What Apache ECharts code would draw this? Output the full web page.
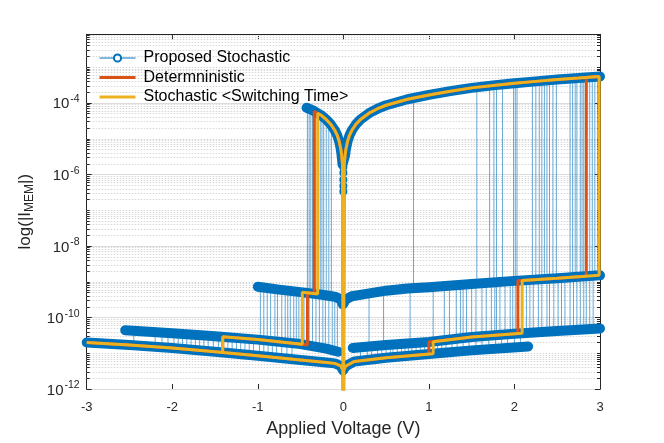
<!DOCTYPE html>
<html><head><meta charset="utf-8">
<script src="https://cdn.jsdelivr.net/npm/echarts@6/dist/echarts.min.js"></script>
<style>html,body{margin:0;padding:0;background:#fff}#c{width:664px;height:443px}</style>
</head><body><div id="c"></div>
<script>
// ---------------- data ----------------
const xTicks = [-3, -2, -1, 0, 1, 2, 3];
const yLabelExps = [-12, -10, -8, -6, -4];

// ON-state band (V, |I|)
const onV = [-0.43,-0.4,-0.35,-0.3,-0.25,-0.2,-0.15,-0.1,-0.07,-0.05,-0.03,-0.02,-0.01,0.01,0.02,0.03,0.05,0.07,0.1,0.15,0.2,0.3,0.4,0.5,0.75,1,1.25,1.5,1.75,2,2.25,2.5,2.75,3];
const onI = [7.2e-5,6.8e-5,6e-5,5.1e-5,4.3e-5,3.4e-5,2.55e-5,1.7e-5,1.2e-5,8.5e-6,5.1e-6,3.4e-6,1.9e-6,1.9e-6,3.4e-6,5.1e-6,8.5e-6,1.2e-5,1.7e-5,2.55e-5,3.4e-5,5.1e-5,6.8e-5,8.5e-5,1.25e-4,1.65e-4,2.1e-4,2.6e-4,3.05e-4,3.5e-4,3.95e-4,4.45e-4,4.9e-4,5.4e-4];
// intermediate band
const midV = [-1,-0.75,-0.5,-0.25,-0.1,-0.03,-0.005,0.005,0.03,0.1,0.25,0.5,0.75,1,1.5,2,2.5,3];
const midI = [7.2e-10,6e-10,5.1e-10,4.3e-10,3.8e-10,3.2e-10,2.3e-10,2.3e-10,3.2e-10,3.9e-10,4.5e-10,5.6e-10,6.4e-10,7e-10,8.6e-10,1.05e-9,1.25e-9,1.5e-9];
// upper low band, negative side
const uV = [-2.55,-2,-1.5,-1,-0.5,-0.2,-0.06];
const uI = [4.4e-11,3.6e-11,3e-11,2.4e-11,1.8e-11,1.35e-11,1.1e-11];
// lowest band (negative side + positive side)
const lowV = [-3,-2.5,-2,-1.5,-1,-0.5,-0.2,-0.1,-0.03,-0.005,0.005,0.03,0.13,0.5,1,1.5,2.16];
const lowI = [2e-11,1.7e-11,1.4e-11,1.1e-11,8.5e-12,6.5e-12,5.5e-12,5.2e-12,4.4e-12,3.3e-12,3.3e-12,4.4e-12,5.9e-12,7.5e-12,9.5e-12,1.2e-11,1.55e-11];
// upper low band, positive side
const bV = [0.11,0.3,0.5,1,1.5,2,2.5,3];
const bI = [1.4e-11,1.55e-11,1.7e-11,2.05e-11,2.85e-11,3.5e-11,4.2e-11,4.9e-11];

// circles of the proposed stochastic run near V = 0
const circV = [0,0,0,0,0,0];
const circI = [2.2e-6,1.6e-6,1.1e-6,7e-7,4.7e-7,3.3e-7];

// switching transitions of stochastic runs: [V, Ilow, Ihigh]
const vertPosMidOn = [[0.82,6.6e-10,1.35e-4],[1.56,8.8e-10,2.7e-4],[1.71,9.3e-10,3e-4],[1.76,9.4e-10,3.1e-4],[1.79,9.5e-10,3.15e-4],[1.86,9.7e-10,3.25e-4],[1.99,1.05e-9,3.5e-4],[2.01,1.05e-9,3.5e-4],[2.03,1.06e-9,3.55e-4],[2.21,1.13e-9,3.9e-4],[2.25,1.15e-9,4e-4],[2.29,1.17e-9,4.1e-4],[2.32,1.18e-9,4.15e-4],[2.35,1.19e-9,4.2e-4],[2.38,1.2e-9,4.25e-4],[2.41,1.21e-9,4.3e-4],[2.45,1.23e-9,4.4e-4],[2.49,1.25e-9,4.5e-4],[2.65,1.32e-9,4.75e-4],[2.68,1.33e-9,4.8e-4],[2.71,1.35e-9,4.85e-4],[2.73,1.36e-9,4.9e-4],[2.77,1.38e-9,4.95e-4],[2.79,1.39e-9,5e-4],[2.81,1.4e-9,5.05e-4],[2.88,1.44e-9,5.2e-4],[2.91,1.46e-9,5.25e-4],[2.94,1.47e-9,5.3e-4],[2.97,1.49e-9,5.35e-4]];
const vertPosBMid = [[0.3,1.55e-11,4.8e-10],[0.47,1.68e-11,5.5e-10],[0.78,1.9e-11,6.5e-10],[1.05,2.1e-11,7.2e-10],[1.18,2.3e-11,7.6e-10],[1.24,2.4e-11,7.8e-10],[1.32,2.55e-11,8e-10],[1.37,2.65e-11,8.2e-10],[1.4,2.7e-11,8.3e-10],[1.44,2.75e-11,8.4e-10],[1.5,2.85e-11,8.6e-10],[1.55,2.95e-11,8.8e-10],[1.62,3.05e-11,9e-10],[1.67,3.1e-11,9.1e-10],[1.73,3.2e-11,9.3e-10],[1.77,3.25e-11,9.4e-10],[1.79,3.3e-11,9.5e-10],[1.83,3.3e-11,9.6e-10],[1.89,3.4e-11,9.8e-10],[1.95,3.45e-11,1e-9],[1.98,3.5e-11,1.04e-9],[2.01,3.5e-11,1.05e-9],[2.14,3.7e-11,1.1e-9],[2.18,3.75e-11,1.12e-9],[2.22,3.8e-11,1.13e-9],[2.28,3.9e-11,1.16e-9],[2.32,3.95e-11,1.18e-9],[2.38,4e-11,1.2e-9],[2.41,4.05e-11,1.21e-9],[2.46,4.15e-11,1.23e-9],[2.51,4.2e-11,1.25e-9],[2.55,4.25e-11,1.27e-9],[2.59,4.3e-11,1.29e-9],[2.65,4.4e-11,1.32e-9],[2.69,4.45e-11,1.33e-9],[2.73,4.5e-11,1.36e-9],[2.77,4.55e-11,1.38e-9],[2.81,4.6e-11,1.4e-9],[2.84,4.65e-11,1.42e-9],[2.88,4.7e-11,1.44e-9],[2.92,4.8e-11,1.46e-9]];
const vertPosAB = [[0.2,6.2e-12,1.45e-11],[0.28,6.5e-12,1.5e-11],[0.33,6.7e-12,1.52e-11],[0.4,7e-12,1.58e-11],[0.45,7.3e-12,1.62e-11],[0.5,7.5e-12,1.65e-11],[0.55,7.8e-12,1.7e-11],[0.58,7.9e-12,1.72e-11],[0.63,8.1e-12,1.75e-11],[0.68,8.3e-12,1.8e-11],[0.72,8.5e-12,1.82e-11],[0.76,8.6e-12,1.85e-11],[0.8,8.8e-12,1.9e-11],[0.85,9e-12,1.93e-11],[0.9,9.2e-12,1.97e-11],[0.95,9.4e-12,2e-11],[1.1,1e-11,2.2e-11],[1.15,1.02e-11,2.25e-11],[1.2,1.05e-11,2.35e-11],[1.27,1.08e-11,2.45e-11],[1.33,1.1e-11,2.55e-11],[1.4,1.15e-11,2.7e-11],[1.47,1.18e-11,2.8e-11],[1.55,1.22e-11,2.95e-11],[1.62,1.27e-11,3.05e-11],[1.7,1.3e-11,3.15e-11],[1.78,1.35e-11,3.25e-11],[1.85,1.38e-11,3.35e-11],[1.92,1.42e-11,3.4e-11],[2.0,1.46e-11,3.5e-11],[2.07,1.5e-11,3.6e-11]];
const vertNegOnMid = [[-0.42,5e-10,7.1e-5],[-0.4,4.9e-10,6.8e-5],[-0.38,4.8e-10,6.5e-5],[-0.36,4.7e-10,6.1e-5],[-0.33,4.6e-10,5.6e-5],[-0.29,4.5e-10,4.9e-5],[-0.27,4.4e-10,4.6e-5],[-0.25,4.3e-10,4.3e-5],[-0.23,4.25e-10,3.9e-5],[-0.2,4.15e-10,3.4e-5],[-0.17,4.05e-10,2.9e-5],[-0.14,3.95e-10,2.4e-5]];
const vertNegMidU = [[-0.97,2.35e-11,7e-10],[-0.93,2.3e-11,6.8e-10],[-0.89,2.25e-11,6.6e-10],[-0.85,2.2e-11,6.4e-10],[-0.8,2.15e-11,6.2e-10],[-0.77,2.1e-11,6.1e-10],[-0.72,2.05e-11,5.9e-10],[-0.68,2e-11,5.7e-10],[-0.65,1.95e-11,5.6e-10],[-0.62,1.93e-11,5.5e-10],[-0.58,1.9e-11,5.4e-10],[-0.55,1.85e-11,5.3e-10],[-0.52,1.82e-11,5.2e-10],[-0.46,1.75e-11,5e-10],[-0.4,1.68e-11,4.9e-10],[-0.36,1.62e-11,4.7e-10],[-0.32,1.55e-11,4.6e-10],[-0.28,1.5e-11,4.5e-10],[-0.24,1.42e-11,4.3e-10],[-0.21,1.37e-11,4.2e-10],[-0.17,1.3e-11,4.05e-10],[-0.13,1.23e-11,3.95e-10],[-0.1,1.18e-11,3.8e-10],[-0.07,1.12e-11,3.6e-10]];
const vertNegUL = [[-2.45,1.67e-11,4.3e-11],[-2.2,1.52e-11,3.9e-11],[-2.12,1.47e-11,3.8e-11],[-2.05,1.43e-11,3.7e-11],[-1.98,1.39e-11,3.6e-11],[-1.93,1.36e-11,3.5e-11],[-1.88,1.33e-11,3.45e-11],[-1.83,1.3e-11,3.4e-11],[-1.78,1.27e-11,3.35e-11],[-1.73,1.24e-11,3.3e-11],[-1.68,1.21e-11,3.2e-11],[-1.63,1.18e-11,3.15e-11],[-1.58,1.15e-11,3.1e-11],[-1.52,1.12e-11,3e-11],[-1.46,1.08e-11,2.95e-11],[-1.35,1.02e-11,2.8e-11],[-1.3,1e-11,2.75e-11],[-1.25,9.7e-12,2.7e-11],[-1.2,9.4e-12,2.65e-11],[-1.15,9.2e-12,2.6e-11],[-1.1,9e-12,2.5e-11],[-1.05,8.7e-12,2.45e-11],[-0.98,8.4e-12,2.4e-11],[-0.93,8.2e-12,2.3e-11],[-0.88,8e-12,2.25e-11],[-0.83,7.8e-12,2.2e-11],[-0.78,7.6e-12,2.1e-11],[-0.72,7.3e-12,2.05e-11],[-0.66,7.1e-12,2e-11],[-0.6,6.9e-12,1.9e-11]];

// sweep paths (explicit switching points); V = 0 goes to ~0 current (below axis)
const pts = (V, I) => V.map((v, k) => [v, I[k]]);
const onPts = pts(onV, onI);
const lowPts = pts(lowV, lowI);
const yellowPath = [].concat(
  [[0,1e-14],[0.005,3.3e-12],[0.03,4.4e-12],[0.13,5.9e-12],[0.5,7.5e-12],[1.05,9.7e-12],
   [1.05,2.1e-11],[1.5,2.85e-11],[2.09,3.6e-11],
   [2.09,1.08e-9],[2.5,1.25e-9],[2.99,1.5e-9],
   [2.99,5.4e-4]],
  onPts.filter(p => p[0] > 0).reverse(),
  [[0,1e-14]],
  onPts.filter(p => p[0] < 0 && p[0] >= -0.3).reverse(),
  [[-0.3,4.5e-10],[-0.48,5.05e-10],
   [-0.48,1.78e-11],[-1,2.4e-11],[-1.41,2.9e-11],
   [-1.41,1.05e-11],[-1.5,1.1e-11],[-2,1.4e-11],[-2.5,1.7e-11]],
  lowPts.filter(p => p[0] < 0),
  [[0,1e-14]]
);
const orangePath = [].concat(
  [[0,1e-14],[0.005,3.3e-12],[0.03,4.4e-12],[0.13,5.9e-12],[0.5,7.5e-12],[1.0,9.5e-12],
   [1.0,2.05e-11],[1.5,2.85e-11],[2.04,3.55e-11],
   [2.04,1.06e-9],[2.5,1.25e-9],[2.84,1.42e-9],
   [2.84,5.1e-4]],
  onPts.filter(p => p[0] > 0).reverse(),
  [[0,1e-14]],
  onPts.filter(p => p[0] < 0 && p[0] >= -0.3).reverse(),
  [[-0.34,5.8e-5],
   [-0.34,4.65e-10],[-0.42,4.95e-10],
   [-0.42,1.7e-11],[-1,2.4e-11],[-1.41,2.9e-11],
   [-1.41,1.05e-11],[-1.5,1.1e-11],[-2,1.4e-11],[-2.5,1.7e-11]],
  lowPts.filter(p => p[0] < 0),
  [[0,1e-14]]
);

// ---------------- chart ----------------
const FONT = '"Liberation Sans", Arial, Helvetica, sans-serif';
const TXT = '#262626';
const BLUE = '#0072BD', ORANGE = '#D95319', YELLOW = '#EDB120';
const Y_MIN = -12, Y_MAX = -2.088;
const lg = arr => arr.map(p => [p[0], Math.log10(p[1])]);
const BAR_ICON = 'path://M0,0L36,0L36,3L0,3Z';

// grid decoration values (log-axis major/minor positions)
const gridVals = [];
for (let n = -12; n <= -3; n++) {
  for (let k = 1; k <= 9; k++) {
    const e = n + Math.log10(k);
    if (e <= Y_MAX) gridVals.push([-3, e, (k === 1 && yLabelExps.indexOf(n) >= 0) ? 0 : 1]);
  }
}
const verts = [].concat(vertPosMidOn, vertPosBMid, vertPosAB, vertNegOnMid, vertNegMidU, vertNegUL)
  .map(d => [d[0], Math.log10(d[1]), Math.log10(d[2])]);

const band = (name, data) => ({
  name, type: 'line', data: lg(data), symbol: 'none', silent: true, z: 3,
  lineStyle: { color: BLUE, width: 10, cap: 'round', join: 'round' }
});

const axisLineStyle = { show: true, onZero: false, lineStyle: { color: TXT, width: 1 } };

const chart = echarts.init(document.getElementById('c'), null, { renderer: 'canvas' });
chart.setOption({
  animation: false,
  backgroundColor: '#fff',
  grid: { left: 86.7, right: 64, top: 34.3, bottom: 49, containLabel: false },
  legend: {
    data: [
      { name: 'Proposed Stochastic', lineStyle: { width: 1 } },
      { name: 'Determninistic', icon: BAR_ICON, itemStyle: { color: ORANGE } },
      { name: 'Stochastic <Switching Time>', icon: BAR_ICON, itemStyle: { color: YELLOW } }
    ],
    orient: 'vertical', left: 99, top: 50, padding: 0, itemWidth: 36, itemHeight: 9, itemGap: 3.5,
    textStyle: { fontFamily: FONT, fontSize: 16, color: '#000', padding: [0, 0, 0, 3] }
  },
  xAxis: [{
    type: 'value', min: -3, max: 3, interval: 1, position: 'bottom',
    axisLine: axisLineStyle,
    axisTick: { show: true, inside: true, length: 5, lineStyle: { color: TXT } },
    axisLabel: { fontFamily: FONT, fontSize: 13, color: TXT, margin: 12 },
    splitLine: { show: false },
    name: 'Applied Voltage (V)', nameLocation: 'middle', nameGap: 31,
    nameTextStyle: { fontFamily: FONT, fontSize: 18, color: TXT }
  }, {
    type: 'value', min: -3, max: 3, interval: 1, position: 'top',
    axisLine: axisLineStyle,
    axisTick: { show: true, inside: true, length: 5, lineStyle: { color: TXT } },
    axisLabel: { show: false }, splitLine: { show: false }
  }],
  yAxis: [{
    type: 'value', min: Y_MIN, max: Y_MAX, interval: 1, position: 'left',
    axisLine: axisLineStyle,
    axisTick: { show: false }, splitLine: { show: false },
    axisLabel: {
      margin: 7,
      formatter: v => {
        const r = Math.round(v);
        return (Math.abs(v - r) < 1e-9 && yLabelExps.indexOf(r) >= 0) ? '{b|10}{s|' + r + '}' : '';
      },
      rich: {
        b: { fontFamily: FONT, fontSize: 15, color: TXT, verticalAlign: 'bottom' },
        s: { fontFamily: FONT, fontSize: 10.5, color: TXT, verticalAlign: 'bottom', padding: [0, 0, 7, 1] }
      }
    },
    name: '{a|log(|I}{s|MEM}{a||)}', nameLocation: 'middle', nameGap: 42, nameRotate: 90,
    nameTextStyle: {
      fontFamily: FONT, fontSize: 17, color: TXT,
      rich: {
        a: { fontFamily: FONT, fontSize: 17, color: TXT, verticalAlign: 'top' },
        s: { fontFamily: FONT, fontSize: 12, color: TXT, verticalAlign: 'top', padding: [7, 0, 0, 0] }
      }
    }
  }, {
    type: 'value', min: Y_MIN, max: Y_MAX, interval: 1, position: 'right',
    axisLine: axisLineStyle,
    axisTick: { show: false }, axisLabel: { show: false }, splitLine: { show: false }
  }],
  series: [
    {
      name: '_grid', type: 'custom', silent: true, z: 1, data: gridVals,
      encode: { x: 0, y: 1 },
      renderItem: (params, api) => {
        const cs = params.coordSys;
        const p = api.coord([api.value(0), api.value(1)]);
        const y = Math.round(p[1]) + 0.5;
        const major = api.value(2) === 0;
        const L = major ? 5 : 3;
        return { type: 'group', children: [
          { type: 'line', shape: { x1: cs.x, y1: y, x2: cs.x + cs.width, y2: y },
            style: { stroke: major ? '#dcdcdc' : '#d6d6d6', lineWidth: 1, lineDash: major ? null : [1.5, 1.5] } },
          { type: 'line', shape: { x1: cs.x, y1: y, x2: cs.x + L, y2: y }, style: { stroke: TXT, lineWidth: 1 } },
          { type: 'line', shape: { x1: cs.x + cs.width - L, y1: y, x2: cs.x + cs.width, y2: y }, style: { stroke: TXT, lineWidth: 1 } }
        ] };
      }
    },
    {
      name: '_verts', type: 'custom', silent: true, z: 2, data: verts,
      encode: { x: 0, y: [1, 2] },
      renderItem: (params, api) => {
        const a = api.coord([api.value(0), api.value(1)]);
        const b = api.coord([api.value(0), api.value(2)]);
        return { type: 'line', shape: { x1: a[0], y1: a[1], x2: b[0], y2: b[1] },
          style: { stroke: BLUE, lineWidth: 1, opacity: 0.6 } };
      }
    },
    band('_on', onPts),
    band('_mid', pts(midV, midI)),
    band('_u', pts(uV, uI)),
    band('_low', lowPts),
    band('_b', pts(bV, bI)),
    {
      name: 'Proposed Stochastic', type: 'line', data: lg(pts(circV, circI)), z: 4,
      symbol: 'emptyCircle', symbolSize: 6, showSymbol: true,
      lineStyle: { color: BLUE, width: 1 }, itemStyle: { color: BLUE, borderWidth: 1 }
    },
    {
      name: 'Determninistic', type: 'line', data: lg(orangePath), symbol: 'none', z: 5,
      lineStyle: { color: ORANGE, width: 3 }, itemStyle: { color: ORANGE }
    },
    {
      name: 'Stochastic <Switching Time>', type: 'line', data: lg(yellowPath), symbol: 'none', z: 6,
      lineStyle: { color: YELLOW, width: 3 }, itemStyle: { color: YELLOW }
    }
  ]
});
</script></body></html>
